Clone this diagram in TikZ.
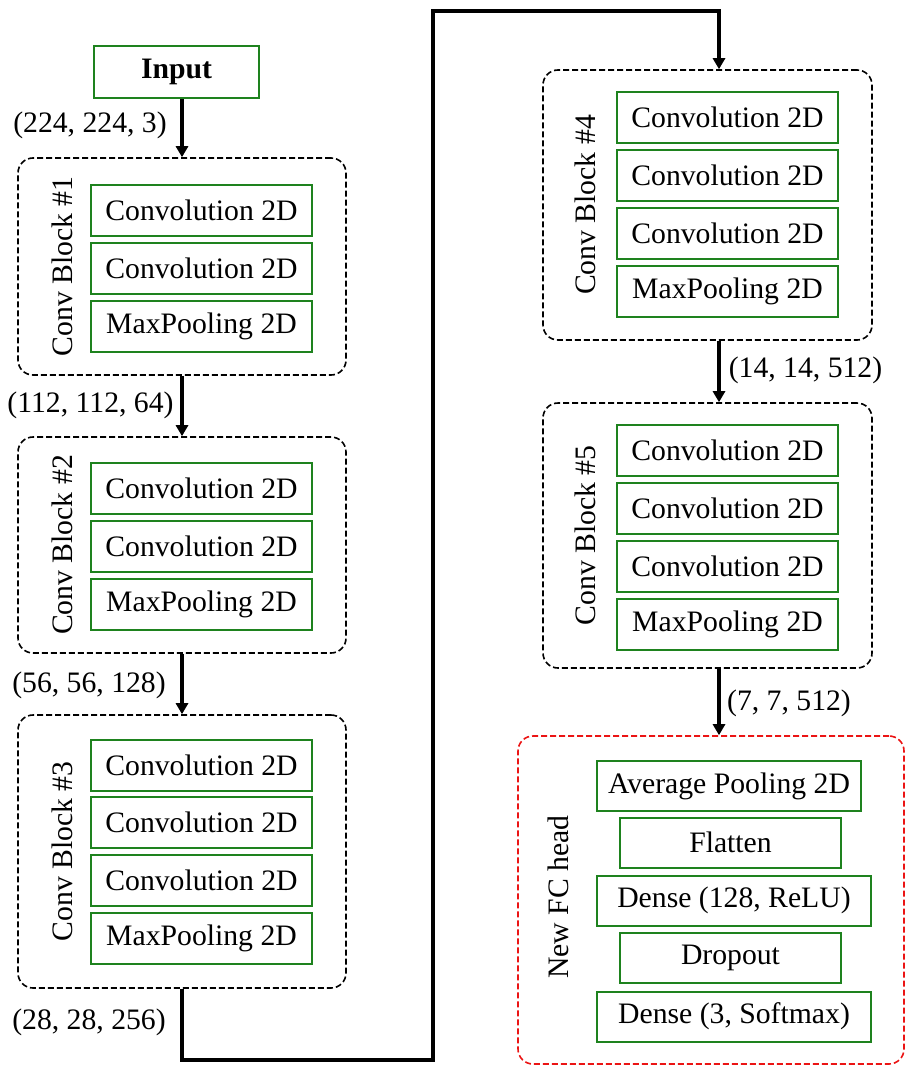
\documentclass[tikz,border=0pt]{standalone}
\usepackage{fontspec}
\setmainfont{Liberation Serif}
\usetikzlibrary{arrows.meta}
\definecolor{boxgreen}{RGB}{30,130,30}
\definecolor{headred}{RGB}{235,20,20}
\begin{document}
\begin{tikzpicture}[x=1pt,y=-1pt,
  font=\fontsize{29.7pt}{34pt}\selectfont,
  layer/.style={draw=boxgreen, line width=2pt, inner sep=0pt, minimum height=51pt, minimum width=221pt},
  block/.style={draw=black, dash pattern=on 6pt off 3pt, line width=1.6pt, rounded corners=15pt, inner sep=0pt},
  headbox/.style={block, draw=headred},
  blocklabel/.style={rotate=90, inner sep=0pt},
  shape label/.style={inner sep=0pt},
  arr/.style={line width=3.5pt, -{Triangle[length=11pt,width=12pt]}}]
\useasboundingbox (0,0) rectangle (905,1068);

% Input
\node[draw=boxgreen, line width=2pt, minimum width=165pt, minimum height=52pt, inner sep=0pt, font=\fontsize{29.7pt}{34pt}\selectfont\bfseries] (in) at (176.5,72) {Input};

% Conv block 1
\node[block, minimum width=328pt, minimum height=217pt] (b1) at (182,266.5) {};
\node[blocklabel] (b1l) at (62,266.5) {Conv Block \#1};
\node[layer] (b1a) at (201.5,210.5) {Convolution 2D};
\node[layer] (b1b) at (201.5,268.5) {Convolution 2D};
\node[layer] (b1c) at (201.5,326.5) {MaxPooling 2D};

% Conv block 2
\node[block, minimum width=328pt, minimum height=216pt] (b2) at (182,545) {};
\node[blocklabel] (b2l) at (62,545) {Conv Block \#2};
\node[layer] (b2a) at (201.5,488.5) {Convolution 2D};
\node[layer] (b2b) at (201.5,546.5) {Convolution 2D};
\node[layer] (b2c) at (201.5,604.5) {MaxPooling 2D};

% Conv block 3
\node[block, minimum width=328pt, minimum height=273pt] (b3) at (182,851.5) {};
\node[blocklabel] (b3l) at (62,851.5) {Conv Block \#3};
\node[layer] (b3a) at (201.5,765.5) {Convolution 2D};
\node[layer] (b3b) at (201.5,822.5) {Convolution 2D};
\node[layer] (b3c) at (201.5,880.5) {Convolution 2D};
\node[layer] (b3d) at (201.5,938.5) {MaxPooling 2D};

% Conv block 4
\node[block, minimum width=329pt, minimum height=270pt] (b4) at (707.5,205) {};
\node[blocklabel] (b4l) at (585,205) {Conv Block \#4};
\node[layer] (b4a) at (727.5,117.5) {Convolution 2D};
\node[layer] (b4b) at (727.5,175.5) {Convolution 2D};
\node[layer] (b4c) at (727.5,233) {Convolution 2D};
\node[layer] (b4d) at (727.5,291.5) {MaxPooling 2D};

% Conv block 5
\node[block, minimum width=329pt, minimum height=265pt] (b5) at (707.5,535.5) {};
\node[blocklabel] (b5l) at (585,535.5) {Conv Block \#5};
\node[layer] (b5a) at (727.5,450) {Convolution 2D};
\node[layer] (b5b) at (727.5,508.5) {Convolution 2D};
\node[layer] (b5c) at (727.5,566.5) {Convolution 2D};
\node[layer] (b5d) at (727.5,624.5) {MaxPooling 2D};

% New FC head
\node[headbox, minimum width=386pt, minimum height=328pt] (hd) at (711,900) {};
\node[blocklabel] (hdl) at (558,897) {New FC head};
\node[layer, minimum width=264pt, minimum height=50pt] (h1) at (729,786) {Average Pooling 2D};
\node[layer, minimum width=221pt, minimum height=50pt] (h2) at (730.5,842.5) {Flatten};
\node[layer, minimum width=274pt, minimum height=50pt] (h3) at (734,900.5) {Dense (128, ReLU)};
\node[layer, minimum width=221pt, minimum height=50pt] (h4) at (730.5,958) {Dropout};
\node[layer, minimum width=274pt, minimum height=50pt] (h5) at (734,1016.5) {Dense (3, Softmax)};

% shape labels
\node[shape label] (s1) at (90,125) {(224, 224, 3)};
\node[shape label] (s2) at (90.5,405) {(112, 112, 64)};
\node[shape label] (s3) at (89,685) {(56, 56, 128)};
\node[shape label] (s4) at (89,1022) {(28, 28, 256)};
\node[shape label] (s5) at (805.5,370) {(14, 14, 512)};
\node[shape label] (s6) at (789,703) {(7, 7, 512)};

% connectors
\coordinate (cBL) at (433,1060);
\coordinate (cTL) at (433,11);
\coordinate (a4) at ([xshift=11.5pt]b4.north);
\draw[arr] (b1.north |- in.south) -- (b1.north);
\draw[arr] (b1.south) -- (b2.north);
\draw[arr] (b2.south) -- (b3.north);
\draw[arr, line join=miter] (b3.south) |- (cBL) -- (cTL) -| (a4);
\draw[arr] ([xshift=11.5pt]b4.south) -- ([xshift=11.5pt]b5.north);
\draw[arr] ([xshift=11.5pt]b5.south) -- ([xshift=11.5pt]b5.south |- hd.north);
\end{tikzpicture}
\end{document}
